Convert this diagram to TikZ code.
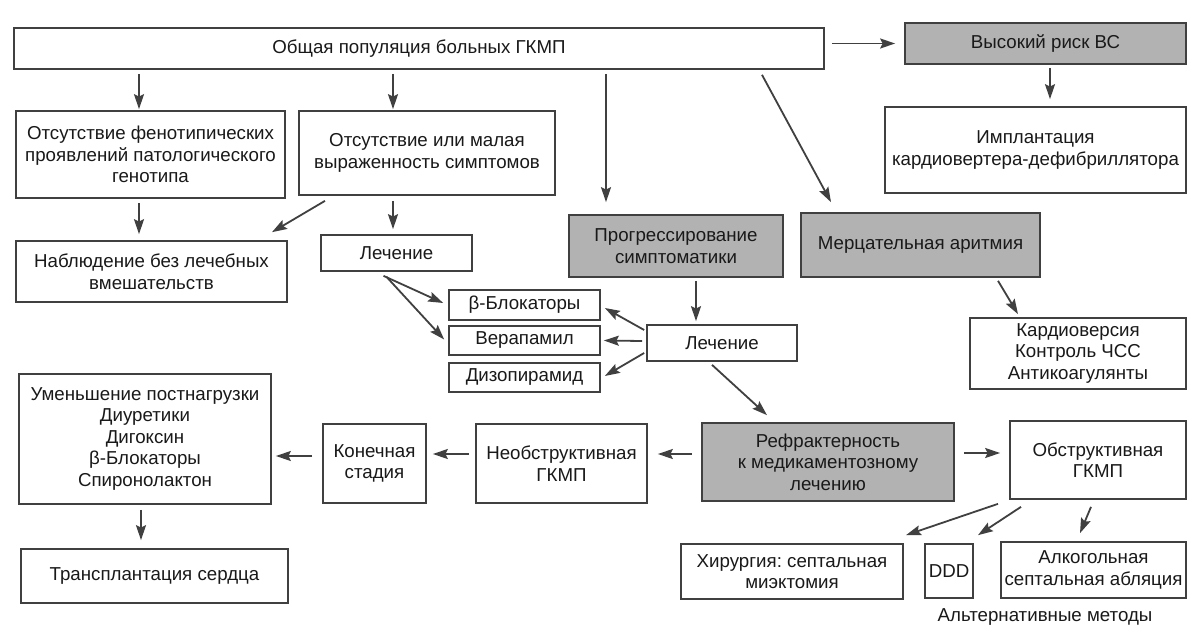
\documentclass[tikz,border=0pt]{standalone}
\usepackage{fontspec}
\setmainfont{Liberation Sans}
\usetikzlibrary{arrows.meta,calc}
\frenchspacing
\begin{document}
\begin{tikzpicture}[x=1pt,y=-1pt,
  box/.style={draw=black!75, line width=1.7pt, align=center, inner sep=0pt, text=black!90, font=\fontsize{18.7}{21.5}\selectfont},
  shaded/.style={box, fill=black!30},
  arr/.style={draw=black!75, line width=1.8pt, -{Stealth[length=15pt,width=10pt,inset=2.5pt]}},
  lbl/.style={inner sep=0pt, text=black!90, font=\fontsize{18.7}{21.5}\selectfont}
]
\fill[white] (0,0) rectangle (1188,642);
\useasboundingbox (0,0) rectangle (1188,642);
% boxes
\node[box, minimum width=810pt, minimum height=41pt] (top) at (419,48.5) {Общая популяция больных ГКМП};
\node[shaded, minimum width=281pt, minimum height=41pt] (risk) at (1045.5,43.5) {Высокий риск ВС};
\node[box, minimum width=301pt, minimum height=86pt] (icd) at (1035.5,150) {Имплантация\\кардиовертера-дефибриллятора};
\node[box, minimum width=269pt, minimum height=87pt] (nophen) at (150.5,154.5) {Отсутствие фенотипических\\проявлений патологического\\генотипа};
\node[box, minimum width=256pt, minimum height=84pt] (mild) at (427,153) {Отсутствие или малая\\выраженность симптомов};
\node[shaded, minimum width=214pt, minimum height=62pt] (prog) at (676,246) {Прогрессирование\\симптоматики};
\node[shaded, minimum width=239pt, minimum height=64pt] (af) at (920.5,245) {Мерцательная аритмия};
\node[box, minimum width=271pt, minimum height=61pt] (observe) at (151.5,271.5) {Наблюдение без лечебных\\вмешательств};
\node[box, minimum width=151pt, minimum height=36pt] (treat1) at (396.5,253) {Лечение};
\node[box, minimum width=151pt, minimum height=30pt] (beta) at (524.5,305) {β-Блокаторы};
\node[box, minimum width=151pt, minimum height=29pt] (vera) at (524.5,340.5) {Верапамил};
\node[box, minimum width=151pt, minimum height=29pt] (dizo) at (524.5,377.5) {Дизопирамид};
\node[box, minimum width=150pt, minimum height=36pt] (treat2) at (722,343) {Лечение};
\node[box, minimum width=216pt, minimum height=71pt] (cardio) at (1078,353.5) {Кардиоверсия\\Контроль ЧСС\\Антикоагулянты};
\node[shaded, minimum width=252pt, minimum height=78pt] (refr) at (828,462) {Рефрактерность\\к медикаментозному\\лечению};
\node[box, minimum width=171pt, minimum height=79pt] (nonobs) at (561.5,463.5) {Необструктивная\\ГКМП};
\node[box, minimum width=103pt, minimum height=79pt] (final) at (374.5,463.5) {Конечная\\стадия};
\node[box, minimum width=252pt, minimum height=130pt] (reduce) at (145,439) {Уменьшение постнагрузки\\Диуретики\\Дигоксин\\β-Блокаторы\\Спиронолактон};
\node[box, minimum width=267pt, minimum height=54pt] (transpl) at (154.5,576) {Трансплантация сердца};
\node[box, minimum width=176pt, minimum height=78pt] (obs) at (1098,460) {Обструктивная\\ГКМП};
\node[box, minimum width=222pt, minimum height=55pt] (surg) at (792,571.5) {Хирургия: септальная\\миэктомия};
\node[box, minimum width=48pt, minimum height=54pt] (ddd) at (949,571) {DDD};
\node[box, minimum width=185pt, minimum height=56pt] (alc) at (1093.5,570) {Алкогольная\\септальная абляция};
\node[lbl] (alt) at (1045,617) {Альтернативные методы};
% connectors
\draw[arr] ($(top.east)+(7,-5)$) -- ($(risk.west)+(-9,0)$);
\draw[arr] ($(risk.south)+(4.5,3)$) -- ($(icd.north)+(14.5,-7)$);
\draw[arr] ($(top.south)+(-280,4)$) -- ($(nophen.north)+(-11.5,-1)$);
\draw[arr] ($(top.south)+(-26,4)$) -- ($(mild.north)+(-34,-1)$);
\draw[arr] ($(top.south)+(187,4)$) -- ($(prog.north)+(-70,-12)$);
\draw[arr] ($(top.south)+(343,5)$) -- ($(af.north)+(-89.5,-10)$);
\draw[arr] ($(nophen.south)+(-11.5,4)$) -- ($(observe.north)+(-12.5,-6)$);
\draw[arr] ($(mild.south)+(-102,5)$) -- ($(observe.north)+(120.5,-8)$);
\draw[arr] ($(mild.south)+(-34,5)$) -- ($(treat1.north)+(-3.5,-5)$);
\draw[arr] ($(treat1.south)+(-13,4)$) -- ($(beta.west)+(-5,-2)$);
\draw[arr] ($(treat1.south)+(-10,5)$) -- ($(vera.west)+(-4,-1)$);
\draw[arr] ($(prog.south)+(20,3)$) -- ($(treat2.north)+(-26,-3)$);
\draw[arr] ($(treat2.west)+(-2,-13)$) -- ($(beta.east)+(4,3)$);
\draw[arr] ($(treat2.west)+(-4,-2)$) -- ($(vera.east)+(3,0)$);
\draw[arr] ($(treat2.west)+(-2,10)$) -- ($(dizo.east)+(4,-1.5)$);
\draw[arr] ($(af.south)+(77.5,3)$) -- ($(cardio.north)+(-60,-3)$);
\draw[arr] ($(treat2.south)+(-10,3)$) -- ($(refr.north)+(-61,-7)$);
\draw[arr] ($(refr.west)+(-9,-8)$) -- ($(nonobs.east)+(10,-9.5)$);
\draw[arr] ($(nonobs.west)+(-6,-9.5)$) -- ($(final.east)+(6,-9.5)$);
\draw[arr] ($(final.west)+(-10,-7.5)$) -- ($(reduce.east)+(4,17)$);
\draw[arr] ($(reduce.south)+(-4,5)$) -- ($(transpl.north)+(-13.5,-8)$);
\draw[arr] ($(refr.east)+(9,-9)$) -- ($(obs.west)+(-9,-7)$);
\draw[arr] ($(obs.south)+(-100,4)$) -- ($(surg.north)+(114,-8)$);
\draw[arr] ($(obs.south)+(-77,7)$) -- ($(ddd.north)+(29,-8)$);
\draw[arr] ($(obs.south)+(-7,7)$) -- ($(alc.north)+(-13.5,-8)$);
\end{tikzpicture}
\end{document}
